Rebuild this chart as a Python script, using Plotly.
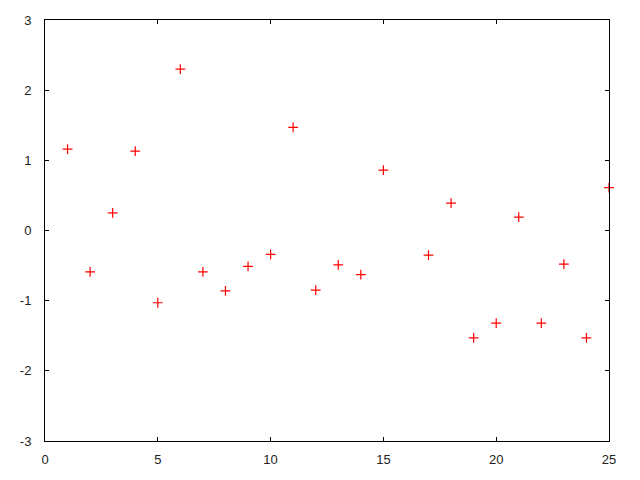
import plotly.graph_objects as go

x_vals = [1, 2, 3, 4, 5, 6, 7, 8, 9, 10, 11, 12, 13, 14, 15, 17, 18, 19, 20, 21, 22, 23, 24, 25]
y_vals = [1.16, -0.59, 0.25, 1.13, -1.03, 2.30, -0.59, -0.86, -0.51, -0.34, 1.47, -0.85,
          -0.49, -0.63, 0.86, -0.35, 0.39, -1.53, -1.32, 0.19, -1.32, -0.48, -1.53, 0.61]
x_ticks = [0, 5, 10, 15, 20, 25]
y_ticks = [-3, -2, -1, 0, 1, 2, 3]

fig = go.Figure()
fig.add_trace(go.Scatter(
    x=x_vals, y=y_vals, mode="markers",
    marker=dict(symbol="cross-thin", size=7, color="red", line=dict(width=1.2, color="red")),
    cliponaxis=False, showlegend=False,
))

axis_common = dict(
    showgrid=False, zeroline=False, showline=True, linecolor="black", linewidth=1,
    mirror="ticks", ticks="inside", ticklen=4, tickcolor="black", tickwidth=1,
    automargin=False,
    tickfont=dict(family="Liberation Sans, Arial, sans-serif", size=13, color="#222"),
)
fig.update_xaxes(range=[0, 25], tickvals=x_ticks, ticktext=[str(t) for t in x_ticks],
                 ticklabelstandoff=6, **axis_common)
fig.update_yaxes(range=[-3, 3], tickvals=y_ticks, ticktext=[str(t) for t in y_ticks],
                 ticklabelstandoff=10, **axis_common)
fig.update_layout(
    width=624, height=464,
    margin=dict(l=37, r=23, t=12, b=31),
    plot_bgcolor="white", paper_bgcolor="white",
)
fig.write_html("out.html")
